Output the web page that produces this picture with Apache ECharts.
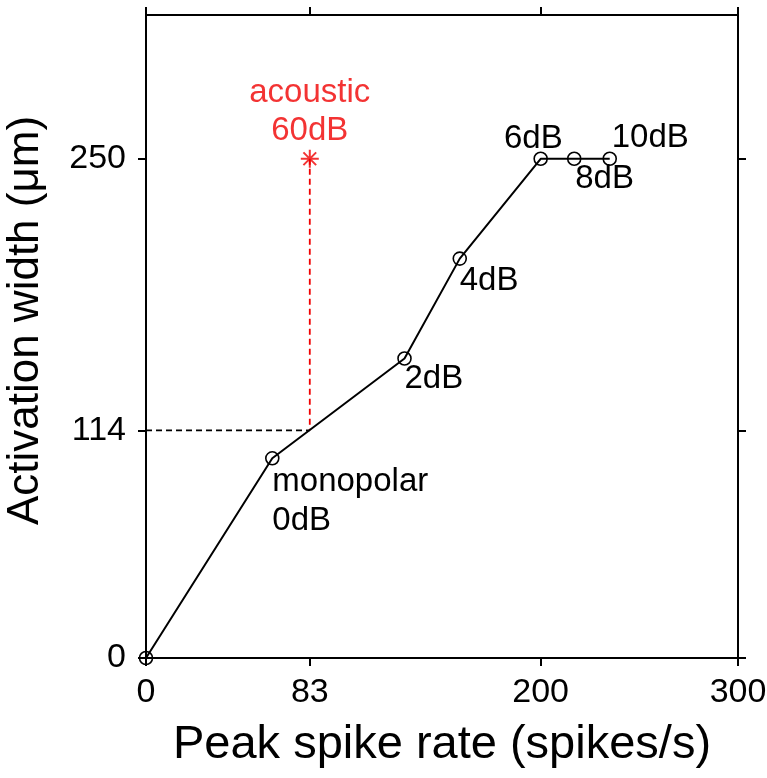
<!DOCTYPE html>
<html><head><meta charset="utf-8">
<script src="https://cdn.jsdelivr.net/npm/echarts@6/dist/echarts.min.js"></script>
<style>html,body{margin:0;padding:0;background:#fff}#c{width:767px;height:778px}</style>
</head><body><div id="c"></div>
<script>
// ---- data ----
const xTicks = [0, 83, 200, 300];
const yTicks = [0, 114, 250];
const stimLabels = ['', 'monopolar\n0dB', '2dB', '4dB', '6dB', '8dB', '10dB'];
const spikeRate = [0, 64, 131, 159, 200, 217, 235];
const actWidth = [0, 100, 150, 200, 250, 250, 250];
const acousticRate = [83];
const acousticWidth = [250];
const acousticLabel = ['acoustic\n60dB'];
const refWidth = 114;

// ---- styles ----
const FONT = "'Liberation Sans', Arial, sans-serif";
const RED = '#f00000';
const labelPlace = [
  null,
  {align: 'left', verticalAlign: 'top', offset: [0, 4]},
  {align: 'left', verticalAlign: 'middle', offset: [0, 20]},
  {align: 'left', verticalAlign: 'middle', offset: [0, 22]},
  {align: 'right', verticalAlign: 'middle', offset: [22, -20]},
  {align: 'left', verticalAlign: 'middle', offset: [1, 20]},
  {align: 'left', verticalAlign: 'middle', offset: [2, -21]}
];

const mainData = spikeRate.map((x, i) => {
  const d = {value: [x, actWidth[i]]};
  const p = labelPlace[i];
  if (p && stimLabels[i]) {
    d.label = Object.assign({show: true, position: 'inside', formatter: stimLabels[i]}, p);
  } else {
    d.label = {show: false};
  }
  return d;
});

const axisLine = {show: true, onZero: false, lineStyle: {color: '#000', width: 2}};
const tickStyle = {lineStyle: {color: '#000', width: 2}, length: 8};

const chart = echarts.init(document.getElementById('c'), null, {renderer: 'canvas'});
chart.setOption({
  animation: false,
  backgroundColor: '#fff',
  textStyle: {fontFamily: FONT},
  grid: {left: 146, right: 29, top: 15, bottom: 120, containLabel: false, outerBoundsMode: 'none'},
  xAxis: [{
    type: 'value', position: 'bottom', min: 0, max: 300,
    axisLine: axisLine,
    axisTick: Object.assign({show: true, inside: false, customValues: xTicks}, tickStyle),
    axisLabel: {show: true, customValues: xTicks, fontSize: 34, color: '#000', margin: 18, fontFamily: FONT},
    splitLine: {show: false},
    name: 'Peak spike rate (spikes/s)', nameLocation: 'middle', nameGap: 64,
    nameTextStyle: {fontSize: 47, color: '#000', fontFamily: FONT}
  }, {
    type: 'value', position: 'top', min: 0, max: 300,
    axisLine: axisLine,
    axisTick: Object.assign({show: true, inside: false, customValues: xTicks}, tickStyle),
    axisLabel: {show: false},
    splitLine: {show: false}
  }],
  yAxis: [{
    type: 'value', position: 'left', min: 0, max: 322,
    axisLine: axisLine,
    axisTick: Object.assign({show: true, inside: false, customValues: yTicks}, tickStyle),
    axisLabel: {show: true, customValues: yTicks, fontSize: 34, color: '#000', margin: 20, fontFamily: FONT},
    splitLine: {show: false},
    name: 'Activation width (\u03bcm)', nameLocation: 'middle', nameGap: 98, nameRotate: 90,
    nameTextStyle: {fontSize: 44, color: '#000', fontFamily: FONT, padding: [0, 0, 0, 32]}
  }, {
    type: 'value', position: 'right', min: 0, max: 322,
    axisLine: axisLine,
    axisTick: Object.assign({show: true, inside: false, customValues: yTicks}, tickStyle),
    axisLabel: {show: false},
    splitLine: {show: false}
  }],
  series: [{
    type: 'line', xAxisIndex: 0, yAxisIndex: 0,
    data: [[0, refWidth], [acousticRate[0], refWidth]],
    symbol: 'none', silent: true, clip: false,
    lineStyle: {color: '#000', width: 1.6, type: [6, 4]}, z: 2
  }, {
    type: 'line', xAxisIndex: 0, yAxisIndex: 0,
    data: [[acousticRate[0], acousticWidth[0]], [acousticRate[0], refWidth]],
    symbol: 'none', silent: true, clip: false,
    lineStyle: {color: RED, width: 1.8, type: [6, 4]}, z: 2
  }, {
    type: 'line', xAxisIndex: 0, yAxisIndex: 0,
    data: mainData,
    clip: false,
    symbol: 'circle', symbolSize: 13, showAllSymbol: true,
    itemStyle: {color: 'rgba(0,0,0,0)', borderColor: '#000', borderWidth: 1.6},
    lineStyle: {color: '#000', width: 2},
    label: {fontSize: 33, color: '#000', fontFamily: FONT, lineHeight: 39},
    z: 3
  }, {
    type: 'scatter', xAxisIndex: 0, yAxisIndex: 0,
    data: acousticRate.map((x, i) => ({value: [x, acousticWidth[i]], label: {show: true, formatter: acousticLabel[i]}})),
    clip: false,
    symbol: 'path://M10,0L10,20M0,10L20,10M2.93,2.93L17.07,17.07M2.93,17.07L17.07,2.93',
    symbolSize: 18,
    itemStyle: {color: 'rgba(0,0,0,0)', borderColor: RED, borderWidth: 2},
    label: {show: true, position: 'inside', align: 'center', verticalAlign: 'bottom', offset: [0, -9],
      fontSize: 33, color: RED, fontFamily: FONT, lineHeight: 38},
    z: 4
  }]
});
</script>
</body></html>
